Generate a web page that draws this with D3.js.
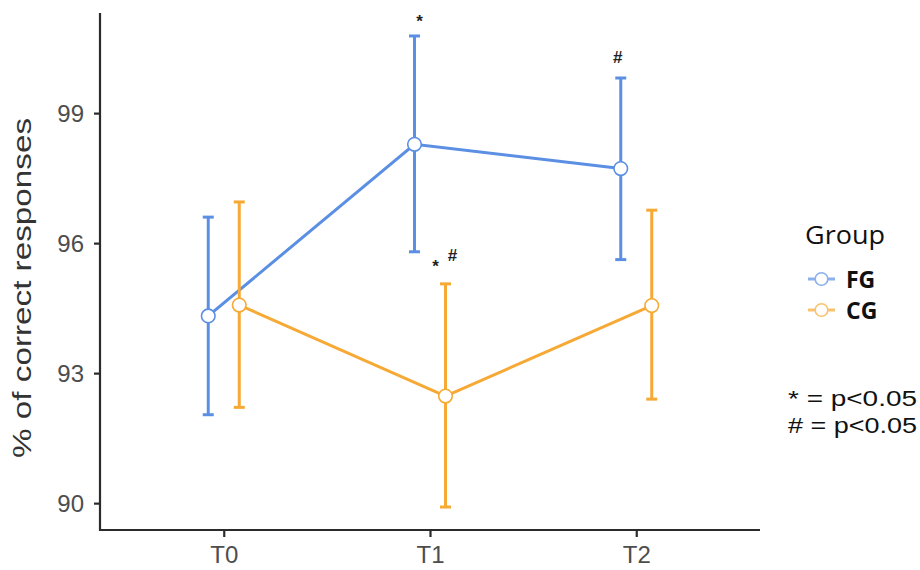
<!DOCTYPE html>
<html>
<head>
<meta charset="utf-8">
<script src="https://cdn.jsdelivr.net/npm/d3@7"></script>
<style>
  html, body { margin: 0; padding: 0; background: #fff; }
  svg { display: block; }
</style>
</head>
<body>
<svg id="chart" width="920" height="570"></svg>
<script>
// ---- data ----
const times = ["T0", "T1", "T2"];
const groups = ["FG", "CG"];
const fgMean = [94.32, 98.28, 97.72];
const fgLow  = [92.04, 95.80, 95.62];
const fgHigh = [96.60, 100.78, 99.81];
const cgMean = [94.57, 92.47, 94.56];
const cgLow  = [92.21, 89.91, 92.40];
const cgHigh = [96.95, 95.06, 96.76];
const yTicks = [90, 93, 96, 99];
const groupColors = ["#5b8fe3", "#f6a935"];
const noteLines = ["* = p<0.05", "# = p<0.05"];
// significance marks: [time, group, symbol]
const marks = [["T1", "FG", "*"], ["T2", "FG", "#"], ["T1", "CG", "*"], ["T1", "CG", "#"]];

const series = [
  { name: "FG", mean: fgMean, low: fgLow, high: fgHigh, color: groupColors[0], dodge: -15.5 },
  { name: "CG", mean: cgMean, low: cgLow, high: cgHigh, color: groupColors[1], dodge: 15.5 }
];

const svg = d3.select("#chart");
const x = d3.scalePoint().domain(times).range([100, 760]).padding(0.6);
const y = d3.scaleLinear().domain([89.38, 101.31]).range([530, 13]);

// axes
const axisColor = "#2b2b2b";
const gy = svg.append("g").attr("transform", "translate(100,0)")
  .call(d3.axisLeft(y).tickValues(yTicks).tickSize(6).tickPadding(10).tickSizeOuter(0));
const gx = svg.append("g").attr("transform", "translate(0,530)")
  .call(d3.axisBottom(x).tickSize(7).tickPadding(10).tickSizeOuter(0));
[gx, gy].forEach(g => {
  g.select(".domain").remove();
  g.selectAll(".tick line").attr("stroke", axisColor).attr("stroke-width", 2.2);
  g.selectAll(".tick text").attr("fill", "#4d4d4d")
    .attr("font-family", "Liberation Sans, Arial, sans-serif").attr("font-size", 24);
});
gx.selectAll(".tick text").attr("dy", "0.68em");
gy.selectAll(".tick text").attr("dy", "0.35em");
svg.append("line").attr("x1", 100).attr("x2", 100).attr("y1", 13).attr("y2", 531)
  .attr("stroke", axisColor).attr("stroke-width", 2.2);
svg.append("line").attr("x1", 99).attr("x2", 760).attr("y1", 530).attr("y2", 530)
  .attr("stroke", axisColor).attr("stroke-width", 2.2);

// y title
svg.append("text")
  .attr("transform", "translate(31,288) rotate(-90)")
  .attr("text-anchor", "middle")
  .attr("font-family", "Liberation Sans, Arial, sans-serif")
  .attr("font-size", 26)
  .attr("fill", "#333")
  .attr("textLength", 340).attr("lengthAdjust", "spacingAndGlyphs")
  .text("% of correct responses");

// series
series.forEach(s => {
  const pts = times.map((t, i) => ({ t, m: s.mean[i], lo: s.low[i], hi: s.high[i], cx: x(t) + s.dodge }));
  const g = svg.append("g");
  g.append("path")
    .attr("d", d3.line().x(d => d.cx).y(d => y(d.m))(pts))
    .attr("fill", "none").attr("stroke", s.color).attr("stroke-width", 3);
  pts.forEach(d => {
    g.append("line").attr("x1", d.cx).attr("x2", d.cx).attr("y1", y(d.lo)).attr("y2", y(d.hi))
      .attr("stroke", s.color).attr("stroke-width", 3);
    [d.lo, d.hi].forEach(v => {
      g.append("line").attr("x1", d.cx - 5.5).attr("x2", d.cx + 5.5).attr("y1", y(v)).attr("y2", y(v))
        .attr("stroke", s.color).attr("stroke-width", 3);
    });
  });
  g.selectAll("circle").data(pts).join("circle")
    .attr("cx", d => d.cx).attr("cy", d => y(d.m)).attr("r", 6.8)
    .attr("fill", "#fff").attr("stroke", s.color).attr("stroke-width", 1.6);
});

// significance marks, placed relative to the upper end of the error bar
const markOffsets = {
  "T1-FG-*": { dx: 5, dy: -17, size: 17 },
  "T2-FG-#": { dx: -3, dy: -21, size: 17 },
  "T1-CG-*": { dx: -10, dy: -20, size: 17 },
  "T1-CG-#": { dx: 7, dy: -29, size: 17 }
};
marks.forEach(([t, gname, sym]) => {
  const s = series.find(d => d.name === gname);
  const i = times.indexOf(t);
  const o = markOffsets[t + "-" + gname + "-" + sym];
  const cx = x(t) + s.dodge + o.dx;
  const cy = y(s.high[i]) + o.dy;
  svg.append("text").attr("x", cx).attr("y", cy).attr("text-anchor", "middle")
    .attr("dy", sym === "*" ? "0.45em" : "0.36em")
    .attr("font-family", "Liberation Sans, Arial, sans-serif").attr("font-size", o.size)
    .attr("font-weight", "bold").attr("fill", "#222").text(sym);
});

// legend
const lg = svg.append("g");
lg.append("text").attr("x", 805).attr("y", 244)
  .attr("font-family", "Open Sans, Liberation Sans, sans-serif").attr("font-size", 25)
  .attr("fill", "#111").attr("textLength", 80).attr("lengthAdjust", "spacingAndGlyphs").text("Group");
groups.forEach((gname, i) => {
  const s = series[i];
  const yy = 279 + i * 31;
  const key = lg.append("g").attr("opacity", 0.7);
  key.append("line").attr("x1", 808).attr("x2", 835).attr("y1", yy).attr("y2", yy)
    .attr("stroke", s.color).attr("stroke-width", 3);
  key.append("circle").attr("cx", 821.5).attr("cy", yy).attr("r", 6.3)
    .attr("fill", "#fff").attr("stroke", s.color).attr("stroke-width", 1.6);
  lg.append("text").attr("x", 846).attr("y", yy + 8.5)
    .attr("font-family", "Open Sans, Liberation Sans, sans-serif").attr("font-size", 23)
    .attr("font-weight", "bold").attr("fill", "#111").text(gname);
});

// note lines
noteLines.forEach((t, i) => {
  svg.append("text").attr("x", 788).attr("y", 406 + i * 27)
    .attr("font-family", "Liberation Sans, Arial, sans-serif").attr("font-size", 22)
    .attr("fill", "#111").attr("textLength", 129).attr("lengthAdjust", "spacingAndGlyphs").text(t);
});
</script>
</body>
</html>
